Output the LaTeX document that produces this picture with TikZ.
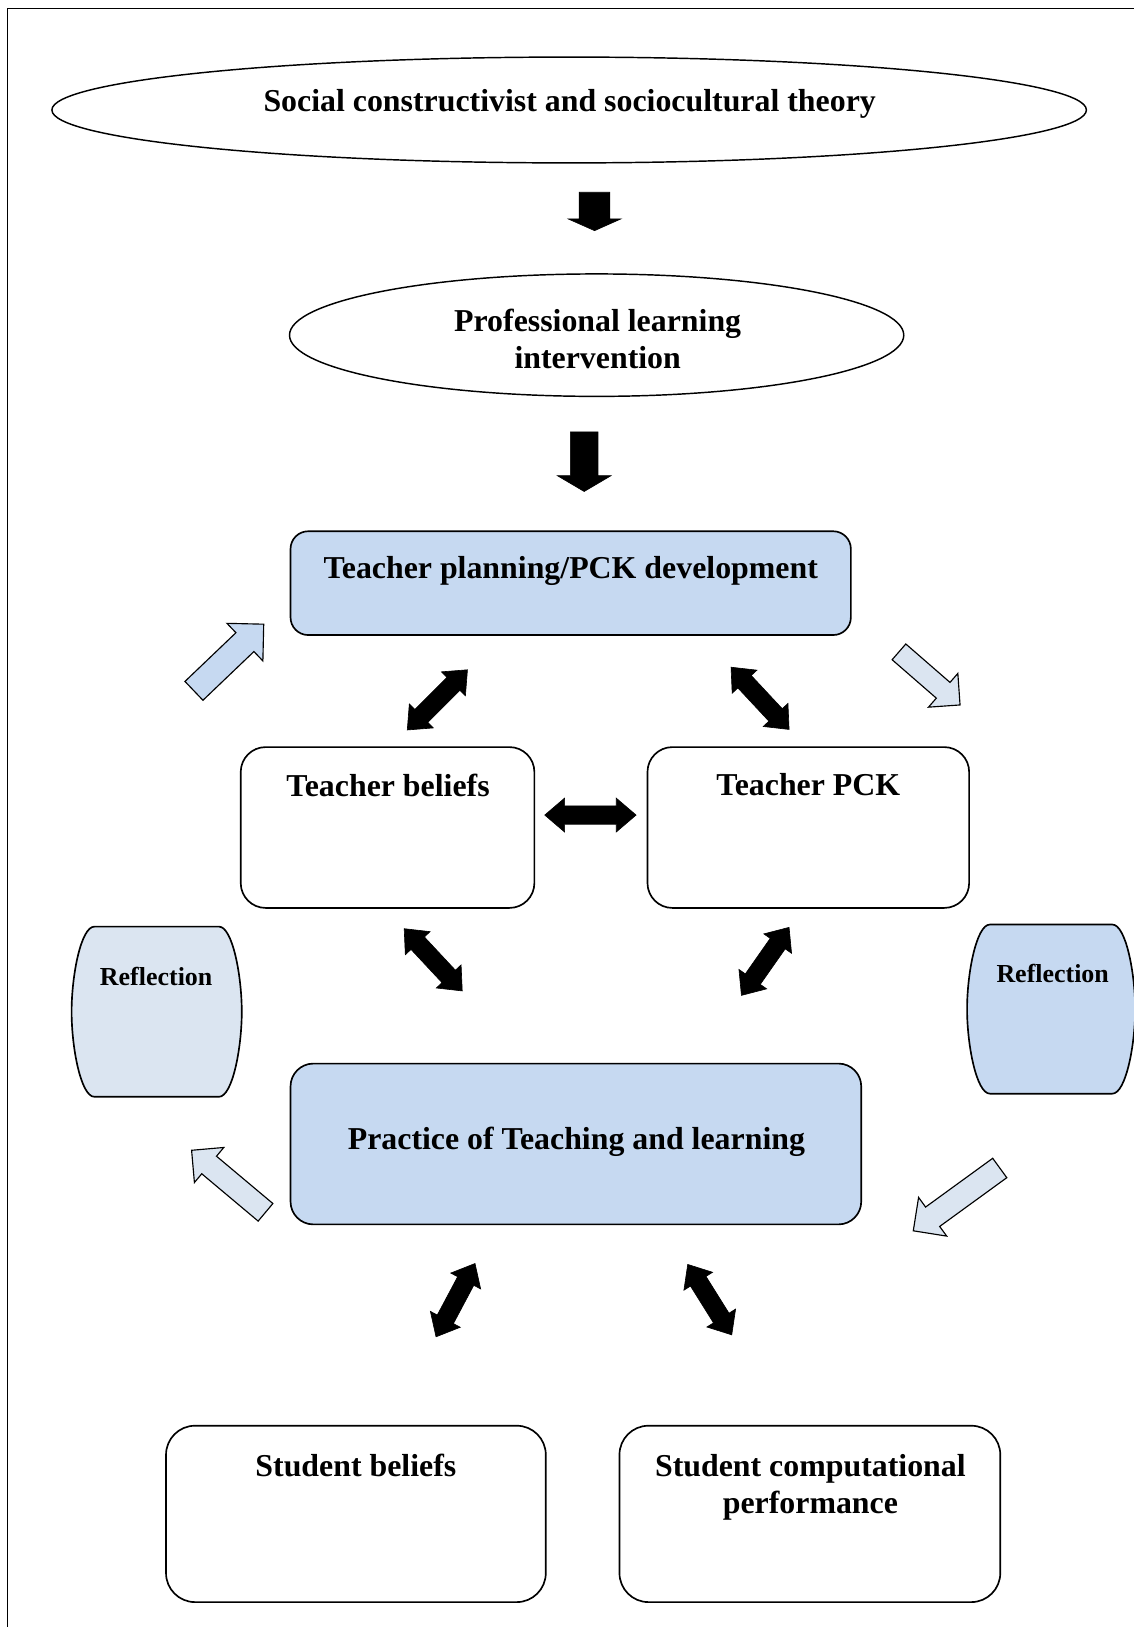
\documentclass[tikz,border=0pt]{standalone}
\usepackage{fontspec}
\setmainfont{Liberation Serif}
\usetikzlibrary{shapes.geometric,shapes.arrows}
\definecolor{boxblue}{HTML}{C6D9F1}
\definecolor{paleblue}{HTML}{DBE5F1}
\begin{document}
\begin{tikzpicture}[x=1pt,y=-1pt,every node/.style={inner sep=0pt,outer sep=0pt},
  txt/.style={font=\bfseries\fontsize{30.7}{35.5}\selectfont,text height=21pt,text depth=6pt},
  txttwo/.style={font=\bfseries\fontsize{30.7}{35.5}\selectfont,align=center},
  smalltxt/.style={font=\bfseries\fontsize{25}{29}\selectfont,text height=17pt,text depth=5pt},
  oval/.style={draw,ellipse,line width=1.4pt},
  rbox/.style={draw,rectangle,line width=1.6pt},
  refl/.style={draw,line width=1.6pt},
  blk/.style={single arrow,draw,fill=black,line width=0.6pt},
  dbl/.style={double arrow,draw,fill=black,line width=0.6pt,inner ysep=8.5pt,
    double arrow head extend=7.5pt,double arrow tip angle=81},
  pale/.style={single arrow,draw,line width=1.1pt,single arrow tip angle=90}
]
\useasboundingbox (0,0) rectangle (1092,1568);
\draw[line width=1.2pt] (7.5,1600) -- (7.5,8) -- (1120,8);

% theory and intervention
\node[oval,minimum width=997pt,minimum height=102pt] (theory) at (548.5,106) {};
\node[txt] (theory-t) at (549,100) {Social constructivist and sociocultural theory};
\node[blk,rotate=-90,minimum height=37pt,inner ysep=14.5pt,
  single arrow head extend=10.5pt,single arrow tip angle=132] (ar1) at (573,200.5) {};
\node[oval,minimum width=592pt,minimum height=118pt] (plint) at (575,323) {};
\node[txttwo] (plint-t) at (576,327) {Professional learning\\intervention};
\node[blk,rotate=-90,minimum height=57.5pt,inner ysep=13pt,
  single arrow head extend=12.5pt,single arrow tip angle=119] (ar2) at (563,441) {};

% teacher boxes
\node[rbox,fill=boxblue,rounded corners=17pt,minimum width=540pt,minimum height=100pt] (plan) at (550,562) {};
\node[txt] (plan-t) at (550,550) {Teacher planning/PCK development};
\node[rbox,rounded corners=24pt,minimum width=283pt,minimum height=155pt] (tbel) at (373.5,797.5) {};
\node[txt] (tbel-t) at (374,760) {Teacher beliefs};
\node[rbox,rounded corners=24pt,minimum width=310pt,minimum height=155pt] (tpck) at (779,797.5) {};
\node[txt] (tpck-t) at (779,759) {Teacher PCK};

\node[dbl,rotate=45,minimum height=82pt] (da1) at (421.5,674.5) {};
\node[dbl,rotate=-47,minimum height=82pt] (da2) at (732.5,673) {};
\node[dbl,minimum height=88pt] (da3) at (569,785.5) {};
\node[dbl,rotate=-47,minimum height=82pt] (da4) at (417.5,925) {};
\node[dbl,rotate=55,minimum height=80pt] (da5) at (737.5,926.5) {};

% reflection cycle
\draw[refl,fill=paleblue] (91,893) -- (211,893) .. controls (224,893) and (233,940) .. (233,975)
  .. controls (233,1010) and (224,1057) .. (211,1057) -- (91,1057)
  .. controls (78,1057) and (69,1010) .. (69,975) .. controls (69,940) and (78,893) .. cycle;
\node[smalltxt] (refl-l) at (150.5,944) {Reflection};
\draw[refl,fill=boxblue] (954,891) -- (1072,891) .. controls (1085,891) and (1094,938) .. (1094,972.5)
  .. controls (1094,1007) and (1085,1054) .. (1072,1054) -- (954,1054)
  .. controls (941,1054) and (932,1007) .. (932,972.5) .. controls (932,938) and (941,891) .. cycle;
\node[smalltxt] (refl-r) at (1014.5,941) {Reflection};

\node[pale,fill=boxblue,rotate=43.7,minimum height=93pt,inner ysep=12pt,
  single arrow head extend=12.5pt] (la1) at (216,638) {};
\node[pale,fill=paleblue,rotate=-41,minimum height=78pt,inner ysep=9.5pt,
  single arrow head extend=11.5pt] (la2) at (892,650.5) {};
\node[pale,fill=paleblue,rotate=140,minimum height=93pt,inner ysep=10.5pt,
  single arrow head extend=11pt] (la3) at (224.5,1142) {};
\node[pale,fill=paleblue,rotate=216,minimum height=103pt,inner ysep=11pt,
  single arrow head extend=11.5pt] (la4) at (926.5,1152.5) {};

% practice and students
\node[rbox,fill=boxblue,rounded corners=22pt,minimum width=550pt,minimum height=155pt] (prac) at (555,1102.5) {};
\node[txt] (prac-t) at (555.5,1100) {Practice of Teaching and learning};
\node[dbl,rotate=62,minimum height=80pt] (da6) at (439,1253) {};
\node[dbl,rotate=-58,minimum height=80pt] (da7) at (684,1252.5) {};
\node[rbox,rounded corners=28pt,minimum width=366pt,minimum height=170pt] (sbel) at (343,1459) {};
\node[txt] (sbel-t) at (343,1415) {Student beliefs};
\node[rbox,rounded corners=28pt,minimum width=367pt,minimum height=170pt] (sperf) at (780.5,1459) {};
\node[txttwo] (sperf-t) at (781,1433) {Student computational\\performance};
\end{tikzpicture}
\end{document}
